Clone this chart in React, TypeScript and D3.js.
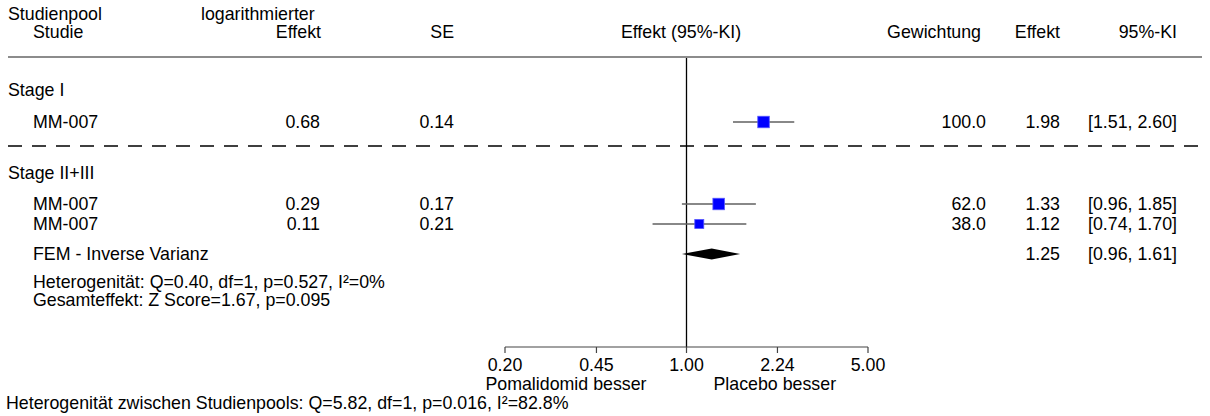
import * as d3 from 'd3';
import React from 'react';

// Pools and studies
const poolNames = ['Stage I', 'Stage II+III'];
const studyNames = ['MM-007', 'MM-007', 'MM-007'];
const studyPool = [0, 1, 1];
const logEffect = [0.68, 0.29, 0.11];
const stdErr = [0.14, 0.17, 0.21];
const weights = [100.0, 62.0, 38.0];
const effects = [1.98, 1.33, 1.12];
const ciLow = [1.51, 0.96, 0.74];
const ciHigh = [2.6, 1.85, 1.7];

// Pooled (FEM) result for Stage II+III
const femLabel = 'FEM - Inverse Varianz';
const femEffect = [1.25];
const femLow = [0.96];
const femHigh = [1.61];
const femNotes = [
    'Heterogenität: Q=0.40, df=1, p=0.527, I²=0%',
    'Gesamteffekt: Z Score=1.67, p=0.095',
];

const axisTicks = [0.2, 0.45, 1.0, 2.24, 5.0];
const leftLabel = 'Pomalidomid besser';
const rightLabel = 'Placebo besser';
const footer = 'Heterogenität zwischen Studienpools: Q=5.82, df=1, p=0.016, I²=82.8%';

const W = 1210;
const H = 416;
const font = '"Liberation Sans", Arial, sans-serif';
const fs = 17.8;

const App = () => {
    const x = d3.scaleLog().domain([0.2, 5]).range([505, 868]);
    const fmt2 = d3.format('.2f');
    const fmt1 = d3.format('.1f');

    // row centres
    const poolY = [90, 173];
    const studyY = [122, 204, 224];
    const femY = 254;
    const noteY = [282, 300];
    const dashY = 146;
    const axisY = 347;
    const topY = 57;
    const base = 6.3; // centre -> baseline

    // square size relative to the biggest weight in its pool
    const maxW = poolNames.map((_, p) => d3.max(weights.filter((_, i) => studyPool[i] === p)) as number);
    const side = (i: number) => 11.5 * Math.sqrt(weights[i] / maxW[studyPool[i]]);

    const colName = 33;
    const colLog = 320;
    const colSE = 454;
    const colW = 986;
    const colE = 1060;
    const colCI = 1177;

    const ci = (lo: number, hi: number) => `[${fmt2(lo)}, ${fmt2(hi)}]`;

    return (
        <svg width={W} height={H} style={{ position: 'absolute', left: 0, top: 0 }}
            fontFamily={font} fontSize={fs} fill="#000">
            {/* header */}
            <text x={8} y={20}>Studienpool</text>
            <text x={colName} y={38}>Studie</text>
            <text x={201} y={20}>logarithmierter</text>
            <text x={colLog + 1} y={38} textAnchor="end">Effekt</text>
            <text x={colSE} y={38} textAnchor="end">SE</text>
            <text x={681} y={38} textAnchor="middle">Effekt (95%-KI)</text>
            <text x={981} y={38} textAnchor="end">Gewichtung</text>
            <text x={colE} y={38} textAnchor="end">Effekt</text>
            <text x={colCI} y={38} textAnchor="end">95%-KI</text>
            <line x1={8} x2={1202} y1={topY} y2={topY} stroke="#8c8c8c" strokeWidth={2} />

            {/* reference line at 1 */}
            <line x1={x(1)} x2={x(1)} y1={topY + 1} y2={axisY} stroke="#000" strokeWidth={1.3} />

            {/* pool labels */}
            {poolNames.map((p, i) => (
                <text key={p} x={8} y={poolY[i] + base}>{p}</text>
            ))}

            <line x1={8} x2={1202} y1={dashY} y2={dashY} stroke="#000" strokeWidth={1.4}
                strokeDasharray="14,10" />

            {/* studies */}
            {studyNames.map((n, i) => {
                const y = studyY[i];
                const s = side(i);
                return (
                    <g key={i}>
                        <text x={colName} y={y + base}>{n}</text>
                        <text x={colLog} y={y + base} textAnchor="end">{fmt2(logEffect[i])}</text>
                        <text x={colSE} y={y + base} textAnchor="end">{fmt2(stdErr[i])}</text>
                        <line x1={x(ciLow[i])} x2={x(ciHigh[i])} y1={y} y2={y} stroke="#606060" strokeWidth={1.6} />
                        <rect x={x(effects[i]) - s / 2} y={y - s / 2} width={s} height={s}
                            fill="#0000ff" stroke="#5555ff" strokeWidth={0.8} />
                        <text x={colW} y={y + base} textAnchor="end">{fmt1(weights[i])}</text>
                        <text x={colE} y={y + base} textAnchor="end">{fmt2(effects[i])}</text>
                        <text x={colCI} y={y + base} textAnchor="end">{ci(ciLow[i], ciHigh[i])}</text>
                    </g>
                );
            })}

            {/* pooled */}
            <text x={colName} y={femY + base}>{femLabel}</text>
            <path d={`M${x(femLow[0])},${femY} L${x(femEffect[0])},${femY - 5.5} L${x(femHigh[0])},${femY} L${x(femEffect[0])},${femY + 5.5} Z`}
                fill="#000" />
            <text x={colE} y={femY + base} textAnchor="end">{fmt2(femEffect[0])}</text>
            <text x={colCI} y={femY + base} textAnchor="end">{ci(femLow[0], femHigh[0])}</text>
            {femNotes.map((t, i) => (
                <text key={i} x={colName} y={noteY[i] + base}>{t}</text>
            ))}

            {/* axis */}
            <line x1={x(0.2)} x2={x(5)} y1={axisY} y2={axisY} stroke="#444" strokeWidth={1.2} />
            {axisTicks.map(t => (
                <g key={t}>
                    <line x1={x(t)} x2={x(t)} y1={axisY} y2={axisY + 6} stroke="#444" strokeWidth={1.2} />
                    <text x={x(t)} y={371} textAnchor="middle">{fmt2(t)}</text>
                </g>
            ))}
            <text x={x(1) - 40} y={390} textAnchor="end">{leftLabel}</text>
            <text x={x(1) + 27} y={390}>{rightLabel}</text>

            <text x={6} y={409}>{footer}</text>
        </svg>
    );
};

export default App;
